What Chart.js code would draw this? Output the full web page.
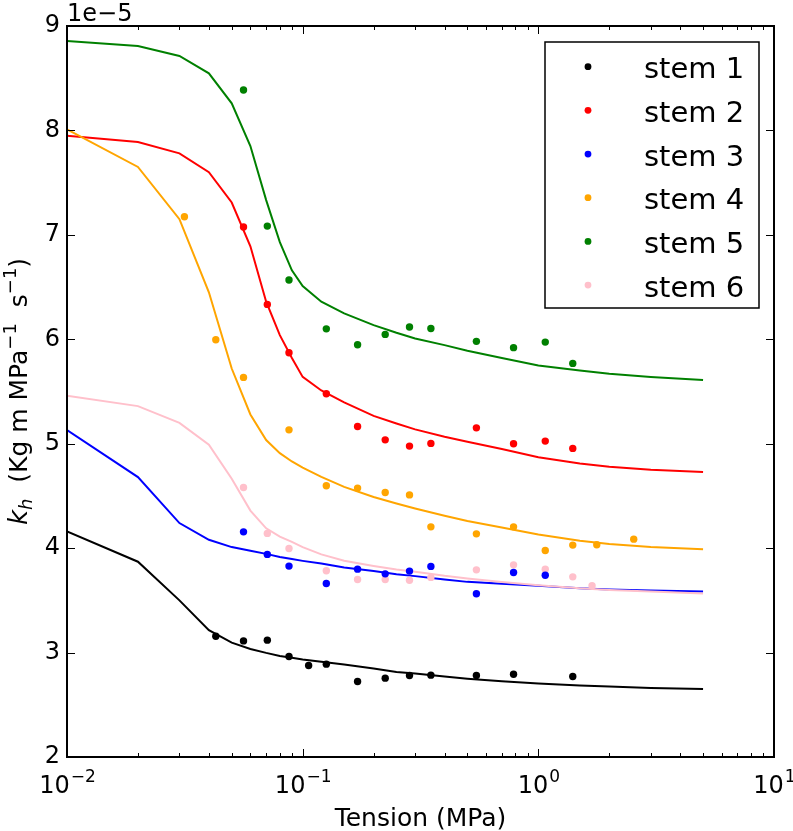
<!DOCTYPE html>
<html lang="en">
<head>
  <meta charset="UTF-8">
  <title>Hydraulic conductance vs tension</title>
  <script src="https://cdn.jsdelivr.net/npm/chart.js"></script>
  <style>
    html, body { margin: 0; padding: 0; background: #fff; }
    #chart { display: block; }
  </style>
</head>
<body>
  <canvas id="chart" width="793" height="831"></canvas>

  <script>
    // all k_h values are in units of 1e-5
    var stemNames = ['stem 1', 'stem 2', 'stem 3', 'stem 4', 'stem 5', 'stem 6'];
    var stemColors = ['#000000', '#ff0000', '#0000ff', '#ffa500', '#008000', '#ffc0cb'];

    // fitted curves, sampled at these tensions (MPa)
    var curveX = [0.01, 0.02, 0.03, 0.04, 0.05, 0.06, 0.07, 0.08, 0.09, 0.1, 0.12, 0.15, 0.2, 0.25, 0.3, 0.4, 0.5, 0.7, 1, 1.5, 2, 3, 5];
    var fit1 = [4.16, 3.87, 3.50, 3.215, 3.095, 3.035, 2.997, 2.968, 2.95, 2.934, 2.911, 2.886, 2.848, 2.815, 2.80, 2.77, 2.75, 2.725, 2.705, 2.685, 2.675, 2.66, 2.65];
    var fit2 = [7.95, 7.89, 7.78, 7.60, 7.31, 6.89, 6.36, 6.04, 5.82, 5.64, 5.51, 5.395, 5.267, 5.194, 5.137, 5.066, 5.018, 4.95, 4.87, 4.81, 4.78, 4.75, 4.73];
    var fit3 = [5.13, 4.68, 4.24, 4.08, 4.01, 3.975, 3.945, 3.915, 3.895, 3.878, 3.852, 3.814, 3.78, 3.751, 3.732, 3.70, 3.677, 3.658, 3.64, 3.615, 3.605, 3.595, 3.585];
    var fit4 = [8.01, 7.65, 7.15, 6.45, 5.72, 5.28, 5.035, 4.91, 4.83, 4.77, 4.683, 4.587, 4.49, 4.428, 4.38, 4.31, 4.26, 4.198, 4.13, 4.07, 4.04, 4.01, 3.99];
    var fit5 = [8.856, 8.808, 8.713, 8.547, 8.26, 7.85, 7.333, 6.93, 6.66, 6.51, 6.36, 6.248, 6.136, 6.063, 6.008, 5.944, 5.89, 5.82, 5.75, 5.70, 5.67, 5.64, 5.61];
    var fit6 = [5.46, 5.36, 5.20, 4.99, 4.665, 4.36, 4.19, 4.11, 4.06, 4.01, 3.94, 3.88, 3.83, 3.795, 3.775, 3.735, 3.71, 3.675, 3.645, 3.615, 3.60, 3.585, 3.565];

    // measured points
    var meas1X = [0.0428, 0.0561, 0.0708, 0.0875, 0.106, 0.126, 0.171, 0.224, 0.284, 0.35, 0.546, 0.785, 1.40];
    var meas1Y = [3.157, 3.112, 3.119, 2.963, 2.876, 2.889, 2.723, 2.755, 2.781, 2.784, 2.781, 2.793, 2.771];
    var meas2X = [0.0561, 0.0708, 0.0875, 0.126, 0.171, 0.224, 0.284, 0.35, 0.546, 0.785, 1.07, 1.40];
    var meas2Y = [7.075, 6.334, 5.871, 5.478, 5.165, 5.037, 4.977, 5.003, 5.152, 4.999, 5.025, 4.955];
    var meas3X = [0.0561, 0.0708, 0.0875, 0.126, 0.171, 0.224, 0.284, 0.35, 0.546, 0.785, 1.07];
    var meas3Y = [4.156, 3.94, 3.828, 3.662, 3.799, 3.754, 3.780, 3.825, 3.563, 3.767, 3.741];
    var meas4X = [0.0315, 0.0428, 0.0561, 0.0875, 0.126, 0.171, 0.224, 0.284, 0.35, 0.546, 0.785, 1.07, 1.40, 1.77, 2.54];
    var meas4Y = [7.173, 5.995, 5.635, 5.133, 4.597, 4.575, 4.533, 4.51, 4.204, 4.137, 4.204, 3.978, 4.029, 4.032, 4.086];
    var meas5X = [0.0561, 0.0708, 0.0875, 0.126, 0.171, 0.224, 0.284, 0.35, 0.546, 0.785, 1.07, 1.40];
    var meas5Y = [8.387, 7.084, 6.567, 6.10, 5.947, 6.047, 6.117, 6.104, 5.98, 5.92, 5.973, 5.769];
    var meas6X = [0.0561, 0.0708, 0.0875, 0.126, 0.171, 0.224, 0.284, 0.35, 0.546, 0.785, 1.07, 1.40, 1.69];
    var meas6Y = [4.581, 4.141, 3.997, 3.783, 3.70, 3.70, 3.693, 3.72, 3.792, 3.84, 3.799, 3.725, 3.64];

    // axis ticks
    var xMajor = [0.01, 0.1, 1, 10];
    var xMajorExp = ['\u22122', '\u22121', '0', '1'];
    var yTicks = [2, 3, 4, 5, 6, 7, 8, 9];

    var fits = [fit1, fit2, fit3, fit4, fit5, fit6];
    var measX = [meas1X, meas2X, meas3X, meas4X, meas5X, meas6X];
    var measY = [meas1Y, meas2Y, meas3Y, meas4Y, meas5Y, meas6Y];

    function pairs(xs, ys) {
      return xs.map(function(x, i) { return { x: x, y: ys[i] }; });
    }

    // minor ticks of the log axis: 2..9 x each decade
    var xMinor = [];
    for (var d = 0; d < 3; d++) {
      for (var m = 2; m < 10; m++) xMinor.push(m * Math.pow(10, d - 2));
    }

    var datasets = [];
    for (var i = 0; i < 6; i++) {
      datasets.push({
        label: stemNames[i],
        data: pairs(measX[i], measY[i]),
        showLine: false,
        pointRadius: 3.7,
        pointBorderWidth: 0,
        backgroundColor: stemColors[i],
        borderColor: stemColors[i],
        order: 0
      });
    }
    for (var i = 0; i < 6; i++) {
      datasets.push({
        label: stemNames[i] + ' fit',
        data: pairs(curveX, fits[i]),
        showLine: true,
        pointRadius: 0,
        borderWidth: 2,
        borderColor: stemColors[i],
        backgroundColor: stemColors[i],
        tension: 0,
        fill: false,
        order: 1 + (5 - i)
      });
    }

    var font = 'DejaVu Sans';

    // frame, inward ticks, titles and legend
    var decorations = {
      id: 'decorations',
      afterDraw: function(chart) {
        var c = chart.ctx;
        var a = chart.chartArea;
        var xs = chart.scales.x, ys = chart.scales.y;
        c.save();
        c.strokeStyle = '#000';

        // ticks
        c.lineWidth = 1;
        c.beginPath();
        xMajor.forEach(function(v) {
          var px = Math.round(xs.getPixelForValue(v)) + 0.5;
          c.moveTo(px, a.bottom); c.lineTo(px, a.bottom - 8);
          c.moveTo(px, a.top); c.lineTo(px, a.top + 8);
        });
        xMinor.forEach(function(v) {
          var px = Math.round(xs.getPixelForValue(v)) + 0.5;
          c.moveTo(px, a.bottom); c.lineTo(px, a.bottom - 4);
          c.moveTo(px, a.top); c.lineTo(px, a.top + 4);
        });
        yTicks.forEach(function(v) {
          var py = Math.round(ys.getPixelForValue(v)) + 0.5;
          c.moveTo(a.left, py); c.lineTo(a.left + 8, py);
          c.moveTo(a.right, py); c.lineTo(a.right - 8, py);
        });
        c.stroke();

        // frame
        c.lineWidth = 2;
        c.strokeRect(a.left, a.top, a.right - a.left, a.bottom - a.top);

        c.fillStyle = '#000';
        c.textBaseline = 'alphabetic';

        // x tick labels: 10 with a raised exponent
        xMajor.forEach(function(v, k) {
          var px = xs.getPixelForValue(v);
          c.font = '24px "' + font + '"';
          var wb = c.measureText('10').width;
          c.font = '17px "' + font + '"';
          var we = c.measureText(xMajorExp[k]).width;
          var x0 = px - (wb + we) / 2;
          c.textAlign = 'left';
          c.font = '24px "' + font + '"';
          c.fillText('10', x0, 793);
          c.font = '17px "' + font + '"';
          c.fillText(xMajorExp[k], x0 + wb + 1, 782);
        });

        // offset text
        c.font = '24px "' + font + '"';
        c.textAlign = 'left';
        c.fillText('1e\u22125', a.left, 21);

        // x title
        c.font = '25px "' + font + '"';
        c.textAlign = 'center';
        c.fillText('Tension (MPa)', (a.left + a.right) / 2, 826);

        // y title with sub/superscripts
        var parts = [
          { t: 'k', f: 'italic 26px "' + font + '"', dy: 0 },
          { t: 'h', f: 'italic 18px "' + font + '"', dy: 5 },
          { t: '  (Kg m MPa', f: '25px "' + font + '"', dy: 0 },
          { t: '\u22121', f: '18px "' + font + '"', dy: -11 },
          { t: '  s', f: '25px "' + font + '"', dy: 0 },
          { t: '\u22121', f: '18px "' + font + '"', dy: -11 },
          { t: ')', f: '25px "' + font + '"', dy: 0 }
        ];
        var total = 0;
        parts.forEach(function(p) { c.font = p.f; p.w = c.measureText(p.t).width; total += p.w; });
        c.translate(27, (a.top + a.bottom) / 2);
        c.rotate(-Math.PI / 2);
        c.textAlign = 'left';
        var x0 = -total / 2;
        parts.forEach(function(p) {
          c.font = p.f;
          c.fillText(p.t, x0, p.dy);
          x0 += p.w;
        });
        c.restore();

        // legend
        c.save();
        c.strokeStyle = '#000';
        c.lineWidth = 1.5;
        c.fillStyle = '#fff';
        c.fillRect(545, 42, 214, 266);
        c.strokeRect(545, 42, 214, 266);
        c.font = '29px "' + font + '"';
        c.textAlign = 'left';
        c.textBaseline = 'alphabetic';
        for (var i = 0; i < 6; i++) {
          var cy = 66.7 + i * 43.67;
          c.fillStyle = stemColors[i];
          c.beginPath();
          c.arc(588, cy, 3.4, 0, Math.PI * 2);
          c.fill();
          c.fillStyle = '#000';
          c.fillText(chart.data.datasets[i].label, 644, cy + 11.5);
        }
        c.restore();
      }
    };

    new Chart(document.getElementById('chart').getContext('2d'), {
      type: 'scatter',
      data: { datasets: datasets },
      options: {
        responsive: false,
        animation: false,
        devicePixelRatio: 1,
        layout: { padding: { top: 26, right: 19, left: 0, bottom: 0 } },
        plugins: {
          legend: { display: false },
          tooltip: { enabled: false }
        },
        scales: {
          x: {
            type: 'logarithmic',
            min: 0.01,
            max: 10,
            grid: { display: false, drawTicks: false },
            border: { display: false },
            afterBuildTicks: function(scale) {
              scale.ticks = xMajor.map(function(v) { return { value: v }; });
            },
            afterFit: function(scale) {
              scale.height = 74;
              scale.paddingLeft = 0;
              scale.paddingRight = 0;
            },
            ticks: { display: false }
          },
          y: {
            min: 2,
            max: 9,
            grid: { display: false, drawTicks: false },
            border: { display: false },
            afterBuildTicks: function(scale) {
              scale.ticks = yTicks.map(function(v) { return { value: v }; });
            },
            afterFit: function(scale) {
              scale.width = 67;
              scale.paddingTop = 0;
              scale.paddingBottom = 0;
            },
            ticks: {
              padding: 7,
              color: '#000',
              font: { family: font, size: 24 },
              callback: function(value) { return String(value); }
            }
          }
        }
      },
      plugins: [decorations]
    });
  </script>
</body>
</html>
